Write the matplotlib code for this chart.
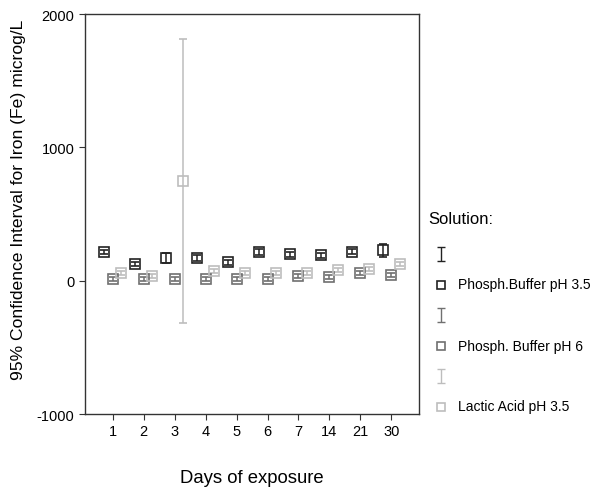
import numpy as np
import matplotlib
matplotlib.use("Agg")
import matplotlib.pyplot as plt

plt.rcParams['font.family'] = ['Liberation Sans', 'DejaVu Sans']
plt.rcParams['axes.unicode_minus'] = False

# Tage (Kategorien)
days = ["1", "2", "3", "4", "5", "6", "7", "14", "21", "30"]

# Mittelwerte und halbe Konfidenzintervalle (microg/L)
phos35_mean = [215, 125, 170, 170, 137, 215, 197, 190, 217, 227]
phos35_err = [15, 15, 35, 20, 20, 25, 20, 20, 20, 50]
phos6_mean = [15, 15, 15, 12, 15, 15, 33, 25, 55, 45]
phos6_err = [15, 15, 15, 15, 15, 15, 15, 15, 15, 15]
lactic_mean = [57, 37, 748, 70, 57, 57, 57, 78, 88, 127]
lactic_err = [15, 15, 1065, 15, 15, 15, 15, 15, 15, 15]

series_labels = ["Phosph.Buffer pH 3.5", "Phosph. Buffer pH 6", "Lactic Acid pH 3.5"]
colors = ["#222222", "#707070", "#bdbdbd"]
offsets = [-0.27, 0.0, 0.27]

fig = plt.figure(figsize=(5.98, 4.89), dpi=100)
ax = fig.add_axes([0.142, 0.1513, 0.559, 0.818])

x = np.arange(len(days))
alle = [(phos35_mean, phos35_err), (phos6_mean, phos6_err), (lactic_mean, lactic_err)]
for (mw, err), col, off in zip(alle, colors, offsets):
    ax.errorbar(x + off, mw, yerr=err, fmt="s", color=col, ecolor=col,
                mfc="none", mec=col, ms=6.5, mew=1.2, capsize=3, elinewidth=1.1,
                capthick=1.1)

ax.set_xlim(-0.9, 9.9)
ax.set_ylim(-1000, 2000)
ax.set_yticks([-1000, 0, 1000, 2000])
ax.set_xticks(x)
ax.set_xticklabels(days)
ax.tick_params(direction="out", length=4, labelsize=10.5, color="#333333")
for s in ax.spines.values():
    s.set_color("#333333")
    s.set_linewidth(1.0)

ax.set_xlabel("Days of exposure", fontsize=13.3, labelpad=22)
ax.set_ylabel("95% Confidence Interval for Iron (Fe) microg/L", fontsize=12.6)
ax.yaxis.set_label_coords(-0.177, 0.5375)

# Legende als eigene Achse (Pixelkoordinaten)
lax = fig.add_axes([420 / 598, 1 - 430 / 489, 178 / 598, 230 / 489])
lax.set_xlim(0, 178)
lax.set_ylim(430, 200)
lax.axis("off")
lax.text(8, 219, "Solution:", fontsize=12, va="center", ha="left")
zeilen_y = [255, 316, 377]
for yy, col, lab in zip(zeilen_y, colors, series_labels):
    lax.errorbar([21], [yy], yerr=[7], fmt="none", ecolor=col, capsize=3,
                 elinewidth=1.0, capthick=1.0)
    lax.plot([21], [yy + 30.5], "s", mfc="none", mec=col, ms=6, mew=1.2)
    lax.text(38, yy + 30.5, lab, fontsize=10, va="center", ha="left")

fig.savefig("out.png", dpi=100)
